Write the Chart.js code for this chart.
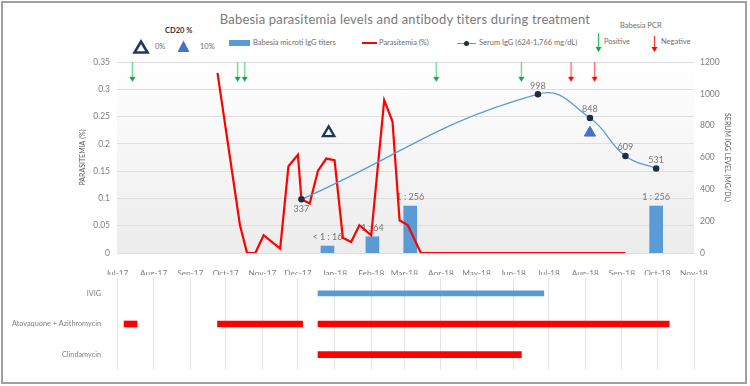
<!DOCTYPE html>
<html>
<head>
<meta charset="utf-8">
<script src="https://cdn.jsdelivr.net/npm/chart.js@4.4.1/dist/chart.umd.min.js"></script>
<style>
  body { margin: 0; background: #fff; font-family: Lato, "Open Sans", sans-serif; }
  #frame { position: absolute; left: 1px; top: 1px; width: 746px; height: 383px; border: 2px solid #a0a0a0; box-sizing: border-box; }
  .box { position: absolute; left: 0; width: 750px; }
  .txt { position: absolute; white-space: nowrap; line-height: 1; color: #6e6e6e; font-size: 7.5px; }
  #title { left: 205px; width: 400px; top: 13px; text-align: center; font-size: 13px; color: #7a7a7a; letter-spacing: 0.2px; }
  svg { position: absolute; overflow: visible; }
</style>
</head>
<body>
<div id="frame"></div>
<div class="txt" id="title">Babesia parasitemia levels and antibody titers during treatment</div>

<div class="txt" style="left:165px; top:27px; font-weight:bold; color:#333;">CD20 %</div>
<svg style="left:133px; top:40px" width="16" height="14"><polygon points="8,1.5 14.5,12.5 1.5,12.5" fill="#fff" stroke="#1f3864" stroke-width="2.6" stroke-linejoin="miter"/></svg>
<div class="txt" style="left:155px; top:43px;">0%</div>
<svg style="left:177px; top:40px" width="13" height="13"><polygon points="6.5,0.5 12.5,12 0.5,12" fill="#4472c4"/></svg>
<div class="txt" style="left:200px; top:43px;">10%</div>
<div style="position:absolute; left:229px; top:40px; width:21px; height:6px; background:#5b9bd5;"></div>
<div class="txt" style="left:253px; top:39px;">Babesia microti IgG titers</div>
<div style="position:absolute; left:362px; top:42px; width:15px; height:2px; background:#ff0000;"></div>
<div class="txt" style="left:379px; top:39px;">Parasitemia (%)</div>
<div style="position:absolute; left:457px; top:42.5px; width:19px; height:1.3px; background:#5b9bd5;"></div>
<div style="position:absolute; left:464px; top:40.5px; width:5px; height:5px; border-radius:50%; background:#1f2d44;"></div>
<div class="txt" style="left:479px; top:39px;">Serum IgG (624-1,766 mg/dL)</div>
<div class="txt" style="left:620px; top:22px;">Babesia PCR</div>
<svg style="left:595px; top:33px" width="7" height="20"><line x1="3.5" y1="0" x2="3.5" y2="15" stroke="#22c55e" stroke-width="1.3"/><polygon points="0.5,14 6.5,14 3.5,19" fill="#16a34a"/></svg>
<div class="txt" style="left:604px; top:38px;">Positive</div>
<svg style="left:651px; top:36px" width="7" height="17"><line x1="3.5" y1="0" x2="3.5" y2="12" stroke="#ff3b3b" stroke-width="1.3"/><polygon points="0.5,11 6.5,11 3.5,16" fill="#ff0000"/></svg>
<div class="txt" style="left:661px; top:38px;">Negative</div>

<div class="box" style="top:0; height:275px;"><canvas id="top"></canvas></div>
<div class="box" style="top:275px; height:108px;"><canvas id="gantt"></canvas></div>

<script>
Chart.defaults.font.family = 'Lato, "Open Sans", sans-serif';

// x axis: months
const monthLabels = ['Jul-17', 'Aug-17', 'Sep-17', 'Oct-17', 'Nov-17', 'Dec-17', 'Jan-18', 'Feb-18', 'Mar-18',
  'Apr-18', 'May-18', 'Jun-18', 'Jul-18', 'Aug-18', 'Sep-18', 'Oct-18', 'Nov-18'];

// parasitemia (%)
const parasitemiaDates = ['2017-09-24', '2017-10-13', '2017-10-19', '2017-10-26', '2017-11-02', '2017-11-16',
  '2017-11-23', '2017-12-01', '2017-12-04', '2017-12-11', '2017-12-18', '2017-12-25', '2018-01-01', '2018-01-08',
  '2018-01-15', '2018-01-22', '2018-02-01', '2018-02-12', '2018-02-19', '2018-02-25', '2018-03-04', '2018-03-15',
  '2018-09-04'];
const parasitemiaValues = [0.33, 0.051, 0, 0, 0.0325, 0.008, 0.159, 0.18, 0.098, 0.091, 0.151, 0.173, 0.17, 0.028,
  0.02, 0.051, 0.0325, 0.28, 0.241, 0.06, 0.051, 0, 0];

// serum IgG (mg/dL)
const igGDates = ['2017-12-04', '2018-06-22', '2018-08-05', '2018-09-04', '2018-09-30'];
const igGValues = [337, 998, 848, 609, 531];

// Babesia microti IgG titers
const titerDates = ['2017-12-26', '2018-02-02', '2018-03-06', '2018-09-30'];
const titerValues = [44, 102, 295, 295];
const titerLabels = ['< 1 : 16', '1 : 64', '1 : 256', '1 : 256'];

// CD20 %
const cd20Dates = ['2017-12-27', '2018-08-05'];
const cd20Levels = ['0%', '10%'];

// Babesia PCR
const pcrPositiveDates = ['2017-07-14', '2017-10-11', '2017-10-17', '2018-03-28', '2018-06-08'];
const pcrNegativeDates = ['2018-07-20', '2018-08-09'];

// treatment courses
const treatments = ['IVIG', 'Atovaquone + Azithromycin', 'Clindamycin'];
const ivigCourses = [['2017-12-18', '2018-06-27']];
const atovaquoneCourses = [['2017-07-07', '2017-07-18'], ['2017-09-24', '2017-12-05'], ['2017-12-18', '2018-10-11']];
const clindamycinCourses = [['2017-12-18', '2018-06-08']];

const DAY0 = Date.UTC(2017, 6, 1);
const MONTHS = ['Jan', 'Feb', 'Mar', 'Apr', 'May', 'Jun', 'Jul', 'Aug', 'Sep', 'Oct', 'Nov', 'Dec'];
const toDay = s => {
  const [y, m, d] = s.split('-').map(Number);
  return (Date.UTC(y, m - 1, d) - DAY0) / 864e5;
};
const monthTicks = monthLabels.map(l => {
  const [mon, yy] = l.split('-');
  return (Date.UTC(2000 + Number(yy), MONTHS.indexOf(mon), 1) - DAY0) / 864e5;
});
const pts = (dates, values) => dates.map((d, i) => ({ x: toDay(d), y: values[i] }));

const CD20_MARK = 755;    // right axis level of the CD20 markers
const PCR_MARK = 0.332;   // left axis level of the PCR arrows

function arrowImage(shaft, head) {
  const c = document.createElement('canvas');
  c.width = 7; c.height = 20;
  const g = c.getContext('2d');
  g.strokeStyle = shaft; g.lineWidth = 1.3;
  g.beginPath(); g.moveTo(3.5, 0); g.lineTo(3.5, 16); g.stroke();
  g.fillStyle = head;
  g.beginPath(); g.moveTo(0.5, 15); g.lineTo(6.5, 15); g.lineTo(3.5, 20); g.closePath(); g.fill();
  return c;
}

const plotBackground = {
  id: 'plotBackground',
  beforeDraw(chart) {
    const { ctx, chartArea: a } = chart;
    const grad = ctx.createLinearGradient(0, a.top, 0, a.bottom);
    grad.addColorStop(0, '#ffffff');
    grad.addColorStop(1, '#ececec');
    ctx.save();
    ctx.fillStyle = grad;
    ctx.fillRect(a.left, a.top, a.right - a.left, a.bottom - a.top);
    ctx.restore();
  }
};

const valueLabels = {
  id: 'valueLabels',
  afterDatasetDraw(chart, args) {
    const ds = chart.data.datasets[args.index];
    if (!ds.labels) return;
    const ctx = chart.ctx;
    ctx.save();
    ctx.font = '9px Lato, "Open Sans", sans-serif';
    ctx.fillStyle = '#777';
    ctx.textAlign = 'center';
    args.meta.data.forEach((el, i) => {
      const below = ds.labelBelow && ds.labelBelow[i];
      ctx.textBaseline = below ? 'top' : 'bottom';
      ctx.fillText(ds.labels[i], el.x, below ? el.y + 5 : el.y - 4);
    });
    ctx.restore();
  }
};

const monthAxis = {
  type: 'linear',
  min: monthTicks[0],
  max: monthTicks[monthTicks.length - 1],
  offset: false,
  afterBuildTicks: s => { s.ticks = monthTicks.map(v => ({ value: v })); }
};

new Chart(document.getElementById('top'), {
  type: 'line',
  data: {
    datasets: [
      {
        type: 'bar', label: 'Babesia microti IgG titers', yAxisID: 'y1', order: 5,
        data: pts(titerDates, titerValues), labels: titerLabels,
        backgroundColor: '#5b9bd5', barThickness: 13
      },
      {
        label: 'Parasitemia (%)', yAxisID: 'y', order: 3,
        data: pts(parasitemiaDates, parasitemiaValues),
        borderColor: '#ff0000', borderWidth: 2.2, pointRadius: 0, tension: 0
      },
      {
        label: 'Serum IgG (624-1,766 mg/dL)', yAxisID: 'y1', order: 2,
        data: pts(igGDates, igGValues), labels: igGValues.map(String), labelBelow: [true, false, false, false, false],
        borderColor: '#5b9bd5', borderWidth: 1.3, tension: 0.45,
        pointRadius: 2.6, pointBackgroundColor: '#1f2d44', pointBorderColor: '#1f2d44'
      },
      {
        label: 'CD20 %', yAxisID: 'y1', order: 1, showLine: false,
        data: cd20Dates.map(d => ({ x: toDay(d), y: CD20_MARK })),
        pointStyle: 'triangle', pointRadius: 6.5,
        pointBackgroundColor: cd20Levels.map(l => l === '0%' ? '#ffffff' : '#4472c4'),
        pointBorderColor: cd20Levels.map(l => l === '0%' ? '#1f3864' : '#4472c4'),
        pointBorderWidth: cd20Levels.map(l => l === '0%' ? 2.4 : 1)
      },
      {
        label: 'PCR positive', yAxisID: 'y', order: 1, showLine: false,
        data: pcrPositiveDates.map(d => ({ x: toDay(d), y: PCR_MARK })),
        pointStyle: arrowImage('#5fd88a', '#16a34a')
      },
      {
        label: 'PCR negative', yAxisID: 'y', order: 1, showLine: false,
        data: pcrNegativeDates.map(d => ({ x: toDay(d), y: PCR_MARK })),
        pointStyle: arrowImage('#ff5a5a', '#ff0000')
      }
    ]
  },
  options: {
    responsive: true,
    maintainAspectRatio: false,
    animation: false,
    layout: { padding: { top: 62, left: 67, right: 10, bottom: 0 } },
    plugins: { legend: { display: false }, tooltip: { enabled: false } },
    scales: {
      x: {
        ...monthAxis,
        afterFit: s => { s.height = 22; },
        grid: { display: false },
        border: { display: false },
        ticks: { callback: (v, i) => monthLabels[i], maxRotation: 0, autoSkip: false, padding: 7,
          color: '#7f7f7f', font: { size: 8.3 } }
      },
      y: {
        position: 'left', min: 0, max: 0.35,
        afterFit: s => { s.width = 50; },
        grid: { color: '#dedede', drawTicks: false },
        border: { display: false },
        ticks: { stepSize: 0.05, padding: 7, color: '#7f7f7f', font: { size: 8.5 },
          callback: v => String(Number(v.toFixed(2))) },
        title: { display: true, text: 'PARASITEMIA (%)', color: '#595959', font: { size: 7 }, padding: { top: 12 } }
      },
      y1: {
        position: 'right', min: 0, max: 1200,
        afterFit: s => { s.width = 46; },
        grid: { display: false, drawTicks: false },
        border: { display: false },
        ticks: { stepSize: 200, padding: 6, color: '#7f7f7f', font: { size: 8.5 }, callback: v => String(v) },
        title: { display: true, text: 'SERUM IGG LEVEL (MG/DL)', color: '#595959', font: { size: 7 }, padding: { top: 9 } }
      }
    }
  },
  plugins: [plotBackground, valueLabels]
});

const courses = (list, row) => list.map(([a, b]) => ({ x: [toDay(a), toDay(b)], y: row }));

new Chart(document.getElementById('gantt'), {
  type: 'bar',
  data: {
    labels: treatments,
    datasets: [
      {
        label: 'IVIG', data: courses(ivigCourses, treatments[0]),
        backgroundColor: '#5b9bd5', barThickness: 5, grouped: false, borderSkipped: false
      },
      {
        label: 'Antibiotics',
        data: [...courses(atovaquoneCourses, treatments[1]), ...courses(clindamycinCourses, treatments[2])],
        backgroundColor: '#ff0000', barThickness: 6, grouped: false, borderSkipped: false
      }
    ]
  },
  options: {
    indexAxis: 'y',
    responsive: true,
    maintainAspectRatio: false,
    animation: false,
    layout: { padding: { top: 3, left: 0, right: 56, bottom: 13 } },
    plugins: { legend: { display: false }, tooltip: { enabled: false } },
    scales: {
      x: {
        ...monthAxis,
        afterFit: s => { s.height = 0; s.paddingLeft = 0; s.paddingRight = 0; },
        ticks: { display: false },
        grid: { color: '#e4e4e4', drawTicks: false },
        border: { display: false }
      },
      y: {
        type: 'category',
        afterFit: s => { s.width = 117; s.paddingTop = 0; s.paddingBottom = 0; },
        grid: { display: false },
        border: { display: false },
        ticks: { color: '#7f7f7f', font: { size: 7.3 }, padding: 8 }
      }
    }
  }
});
</script>
</body>
</html>
